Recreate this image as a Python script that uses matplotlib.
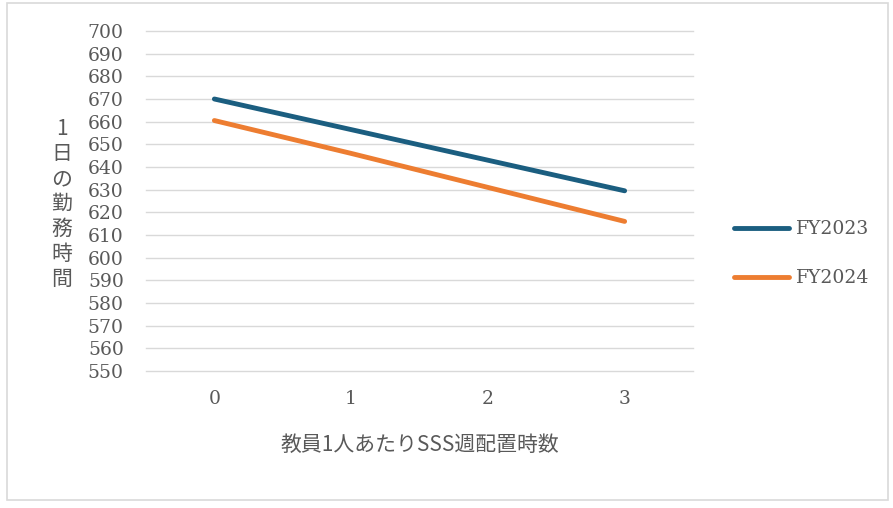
import matplotlib.pyplot as plt
from matplotlib.patches import Rectangle

plt.rcParams['font.family'] = ['DejaVu Serif', 'Noto Sans CJK JP']

# data
hours = [0, 1, 2, 3]
fy2023 = [670, 656.5, 643, 629.5]
fy2024 = [660.5, 646, 631, 616]
yticks = list(range(550, 701, 10))

grey = '#595959'

fig = plt.figure(figsize=(8.93, 5.08), dpi=100)
ax = fig.add_axes([146 / 893, 1 - 371 / 508, 547 / 893, 340 / 508])

ax.plot(hours, fy2023, color='#1B5E80', lw=3.5, solid_capstyle='round', label='FY2023')
ax.plot(hours, fy2024, color='#ED7D31', lw=3.5, solid_capstyle='round', label='FY2024')

ax.set_xlim(-0.5, 3.5)
ax.set_ylim(550, 700)
ax.set_yticks(yticks)
ax.set_xticks(hours)
ax.grid(axis='y', color='#D9D9D9', lw=1)
for gl in ax.get_ygridlines():
    gl.set_clip_on(False)
ax.set_axisbelow(True)
for s in ax.spines.values():
    s.set_visible(False)
ax.tick_params(length=0, colors=grey, labelsize=13.5)
ax.tick_params(axis='y', pad=16)
ax.tick_params(axis='x', pad=14)

ax.set_xlabel('教員1人あたりSSS週配置時数', family=['Noto Sans CJK JP'],
              fontsize=15, color=grey, labelpad=18)
fig.text(62 / 893, 1 - 204 / 508, '\n'.join('1日の勤務時間'), family=['Noto Sans CJK JP'],
         fontsize=15, color=grey, ha='center', va='center', linespacing=1.18)

leg = ax.legend(loc='center left', bbox_to_anchor=(1.045, 0.345), frameon=False,
                fontsize=13.5, labelspacing=1.65, handlelength=2.9, handletextpad=0.4)
for t in leg.get_texts():
    t.set_color(grey)

fig.patches.append(Rectangle((7 / 893, 1 - 500 / 508), 881 / 893, 497 / 508,
                             transform=fig.transFigure, fill=False,
                             edgecolor='#D9D9D9', lw=1.2))

fig.savefig('out.png', dpi=100)
